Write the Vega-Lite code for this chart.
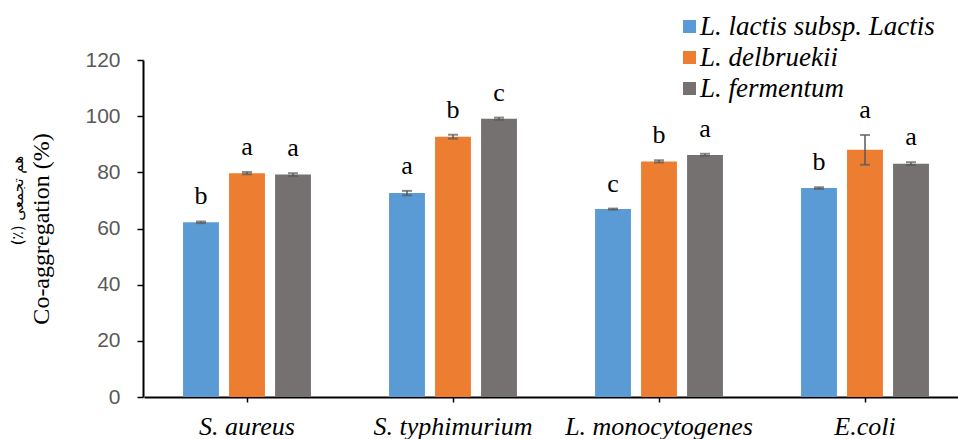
{
  "$schema": "https://vega.github.io/schema/vega-lite/v6.json",
  "autosize": {"type": "none"},
  "padding": {"left": 143, "top": 60, "right": 0, "bottom": 42},
  "width": 815,
  "height": 337,
  "background": "white",
  "title": {
    "text": "(٪) هم تجمعی",
    "orient": "left",
    "anchor": "middle",
    "font": "DejaVu Sans",
    "fontSize": 15,
    "fontWeight": "normal",
    "color": "black",
    "offset": 4,
    "dx": 28
  },
  "config": {
    "view": {"stroke": null},
    "axisY": {
      "titleFont": "Liberation Serif",
      "titleFontSize": 24,
      "titleFontWeight": "normal",
      "titleColor": "black",
      "titlePadding": 31,
      "labelFont": "Liberation Sans",
      "labelFontSize": 21,
      "labelColor": "#595959",
      "labelPadding": 17,
      "tickSize": 6,
      "tickColor": "black",
      "tickWidth": 1.5,
      "domainColor": "black",
      "domainWidth": 2,
      "grid": false
    }
  },
  "data": {
    "values": [
      {"pathogen": "S. aureus", "strain": "L. lactis subsp. Lactis", "value": 62.2, "err": 0.3, "letter": "b"},
      {"pathogen": "S. aureus", "strain": "L. delbruekii", "value": 79.7, "err": 0.4, "letter": "a"},
      {"pathogen": "S. aureus", "strain": "L. fermentum", "value": 79.2, "err": 0.5, "letter": "a"},
      {"pathogen": "S. typhimurium", "strain": "L. lactis subsp. Lactis", "value": 72.6, "err": 0.8, "letter": "a"},
      {"pathogen": "S. typhimurium", "strain": "L. delbruekii", "value": 92.7, "err": 0.7, "letter": "b"},
      {"pathogen": "S. typhimurium", "strain": "L. fermentum", "value": 99.1, "err": 0.4, "letter": "c"},
      {"pathogen": "L. monocytogenes", "strain": "L. lactis subsp. Lactis", "value": 66.9, "err": 0.2, "letter": "c"},
      {"pathogen": "L. monocytogenes", "strain": "L. delbruekii", "value": 83.9, "err": 0.4, "letter": "b"},
      {"pathogen": "L. monocytogenes", "strain": "L. fermentum", "value": 86.2, "err": 0.4, "letter": "a"},
      {"pathogen": "E.coli", "strain": "L. lactis subsp. Lactis", "value": 74.4, "err": 0.3, "letter": "b"},
      {"pathogen": "E.coli", "strain": "L. delbruekii", "value": 88.0, "err": 5.3, "letter": "a"},
      {"pathogen": "E.coli", "strain": "L. fermentum", "value": 83.1, "err": 0.5, "letter": "a"}
    ]
  },
  "transform": [
    {"calculate": "datum.value + datum.err", "as": "hi"},
    {"calculate": "datum.value - datum.err", "as": "lo"}
  ],
  "encoding": {
    "x": {
      "field": "pathogen",
      "type": "nominal",
      "sort": ["S. aureus", "S. typhimurium", "L. monocytogenes", "E.coli"],
      "scale": {"range": [1, 825], "paddingInner": 0.33, "paddingOuter": 0.165},
      "axis": {
        "title": null,
        "labelAngle": 0,
        "labelFont": "Liberation Serif",
        "labelFontStyle": "italic",
        "labelFontSize": 26,
        "labelColor": "black",
        "labelPadding": 11,
        "labelLimit": 400,
        "tickSize": 5,
        "tickColor": "black",
        "tickWidth": 1.5,
        "domainColor": "black",
        "domainWidth": 2
      }
    },
    "xOffset": {
      "field": "strain",
      "type": "nominal",
      "sort": ["L. lactis subsp. Lactis", "L. delbruekii", "L. fermentum"],
      "scale": {"paddingInner": 0.22, "paddingOuter": 0.11}
    }
  },
  "layer": [
    {
      "mark": {"type": "bar"},
      "encoding": {
        "y": {
          "field": "value",
          "type": "quantitative",
          "scale": {"domain": [0, 120]},
          "axis": {
            "title": "Co-aggregation (%)",
            "values": [0, 20, 40, 60, 80, 100, 120]
          }
        },
        "color": {
          "field": "strain",
          "type": "nominal",
          "sort": ["L. lactis subsp. Lactis", "L. delbruekii", "L. fermentum"],
          "scale": {
            "domain": ["L. lactis subsp. Lactis", "L. delbruekii", "L. fermentum"],
            "range": ["#5B9BD5", "#ED7D31", "#767171"]
          },
          "legend": {
            "title": null,
            "orient": "none",
            "legendX": 533,
            "legendY": -47,
            "symbolType": "square",
            "symbolSize": 169,
            "symbolStrokeWidth": 0,
            "labelFont": "Liberation Serif",
            "labelFontStyle": "italic",
            "labelFontSize": 27,
            "labelColor": "black",
            "labelOffset": -3,
            "rowPadding": 3,
            "labelLimit": 400
          }
        }
      }
    },
    {
      "mark": {"type": "rule", "color": "#595959", "strokeWidth": 1.5},
      "encoding": {
        "y": {"field": "lo", "type": "quantitative"},
        "y2": {"field": "hi"}
      }
    },
    {
      "mark": {"type": "tick", "orient": "horizontal", "color": "#595959", "size": 10, "thickness": 2},
      "encoding": {"y": {"field": "hi", "type": "quantitative"}}
    },
    {
      "mark": {"type": "tick", "orient": "horizontal", "color": "#595959", "size": 10, "thickness": 2},
      "encoding": {"y": {"field": "lo", "type": "quantitative"}}
    },
    {
      "mark": {"type": "text", "font": "Liberation Serif", "fontSize": 26, "color": "black", "baseline": "alphabetic", "dy": -17},
      "encoding": {
        "y": {"field": "hi", "type": "quantitative"},
        "text": {"field": "letter"}
      }
    }
  ]
}
